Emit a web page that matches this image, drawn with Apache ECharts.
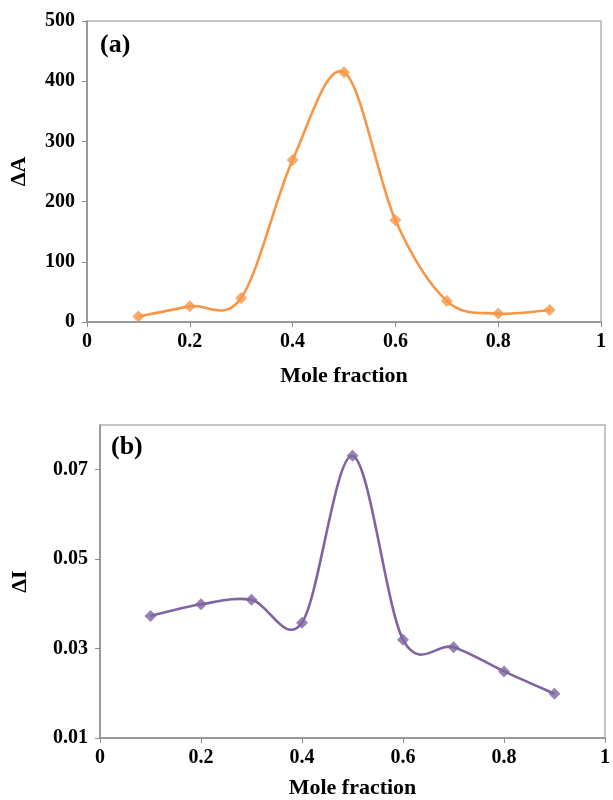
<!DOCTYPE html>
<html>
<head>
<meta charset="utf-8">
<script src="https://cdn.jsdelivr.net/npm/echarts@6/dist/echarts.min.js"></script>
<style>
  html, body { margin: 0; padding: 0; background: #fff; }
  #chart { width: 613px; height: 800px; }
</style>
</head>
<body>
<div id="chart"></div>
<script>
// Job's plot: mole fraction vs. response change
const moleFraction = [0.1, 0.2, 0.3, 0.4, 0.5, 0.6, 0.7, 0.8, 0.9];
const deltaA = [9, 26, 40, 269, 415, 169, 35, 14, 20];
const deltaI = [0.0373, 0.0399, 0.0409, 0.0358, 0.0731, 0.0320, 0.0303, 0.0249, 0.0199];

const panelLabels = ['(a)', '(b)'];
const xAxisTitle = 'Mole fraction';
const yAxisTitles = ['ΔA', 'ΔI'];

const FONT = '"Liberation Serif", "Times New Roman", serif';

const pairs = (ys) => moleFraction.map((x, i) => [x, ys[i]]);

// One row per curve segment: start, end, previous and following point
// (Catmull-Rom style smoothing, endpoints repeated at the ends).
function segments(ys) {
  const n = moleFraction.length;
  const rows = [];
  for (let i = 0; i < n - 1; i++) {
    const p = Math.max(i - 1, 0), q = Math.min(i + 2, n - 1);
    rows.push([moleFraction[i], ys[i], moleFraction[i + 1], ys[i + 1],
               moleFraction[p], ys[p], moleFraction[q], ys[q]]);
  }
  return rows;
}

function curveSeries(idx, ys, color) {
  return {
    type: 'custom', xAxisIndex: idx, yAxisIndex: idx,
    data: segments(ys),
    encode: { x: [0, 2], y: [1, 3] },
    silent: true, z: 2,
    renderItem: (params, api) => {
      const a = api.coord([api.value(0), api.value(1)]);
      const b = api.coord([api.value(2), api.value(3)]);
      const p = api.coord([api.value(4), api.value(5)]);
      const q = api.coord([api.value(6), api.value(7)]);
      return {
        type: 'bezierCurve',
        shape: {
          x1: a[0], y1: a[1], x2: b[0], y2: b[1],
          cpx1: a[0] + (b[0] - p[0]) / 6, cpy1: a[1] + (b[1] - p[1]) / 6,
          cpx2: b[0] - (q[0] - a[0]) / 6, cpy2: b[1] - (q[1] - a[1]) / 6
        },
        style: { stroke: color, lineWidth: 2.6, fill: null }
      };
    }
  };
}

function markerSeries(idx, ys, color) {
  return {
    type: 'scatter', xAxisIndex: idx, yAxisIndex: idx,
    data: pairs(ys), symbol: 'diamond', symbolSize: 12,
    itemStyle: { color }, z: 3
  };
}

function xAxisFor(gridIndex, nameGap) {
  return {
    type: 'value', gridIndex, min: 0, max: 1, interval: 0.2,
    name: xAxisTitle, nameLocation: 'middle', nameGap,
    nameTextStyle: { fontFamily: FONT, fontWeight: 'bold', fontSize: 22, color: '#000' },
    axisLine: { show: true, lineStyle: { color: '#8c8c8c', width: 1.5 } },
    axisTick: { show: true, length: 5, lineStyle: { color: '#8c8c8c' } },
    axisLabel: { fontFamily: FONT, fontWeight: 'bold', fontSize: 20, color: '#000', margin: 10 },
    splitLine: { show: false }
  };
}

function yAxisFor(gridIndex, opts) {
  return Object.assign({
    type: 'value', gridIndex, nameLocation: 'middle',
    nameTextStyle: { fontFamily: FONT, fontWeight: 'bold', fontSize: 22, color: '#000' },
    axisLine: { show: true, lineStyle: { color: '#8c8c8c', width: 1.5 } },
    axisTick: { show: true, length: 5, lineStyle: { color: '#8c8c8c' } },
    axisLabel: { fontFamily: FONT, fontWeight: 'bold', fontSize: 20, color: '#000', margin: 12 },
    splitLine: { show: false }
  }, opts);
}

const chart = echarts.init(document.getElementById('chart'), null, { renderer: 'canvas' });
chart.setOption({
  backgroundColor: '#fff',
  animation: false,
  grid: [
    { left: 87, right: 12, top: 21, bottom: 478, show: true, borderColor: '#b4b4b4', borderWidth: 1.5 },
    { left: 100, right: 5, top: 425, bottom: 62, show: true, borderColor: '#b4b4b4', borderWidth: 1.5 }
  ],
  xAxis: [xAxisFor(0, 43), xAxisFor(1, 39)],
  yAxis: [
    yAxisFor(0, { min: 0, max: 500, interval: 100, name: yAxisTitles[0], nameGap: 57 }),
    yAxisFor(1, {
      min: 0.01, max: 0.08, interval: 0.02, name: yAxisTitles[1], nameGap: 69,
      axisLabel: {
        fontFamily: FONT, fontWeight: 'bold', fontSize: 20, color: '#000', margin: 12,
        showMaxLabel: false,
        formatter: (v) => v.toFixed(2)
      }
    })
  ],
  graphic: [
    { type: 'text', left: 100, top: 32, style: { text: panelLabels[0], font: 'bold 26px ' + FONT, fill: '#000' } },
    { type: 'text', left: 111, top: 434, style: { text: panelLabels[1], font: 'bold 26px ' + FONT, fill: '#000' } }
  ],
  series: [
    curveSeries(0, deltaA, '#F79646'),
    markerSeries(0, deltaA, '#F79646'),
    curveSeries(1, deltaI, '#8064A2'),
    markerSeries(1, deltaI, '#8064A2')
  ]
});
</script>
</body>
</html>
